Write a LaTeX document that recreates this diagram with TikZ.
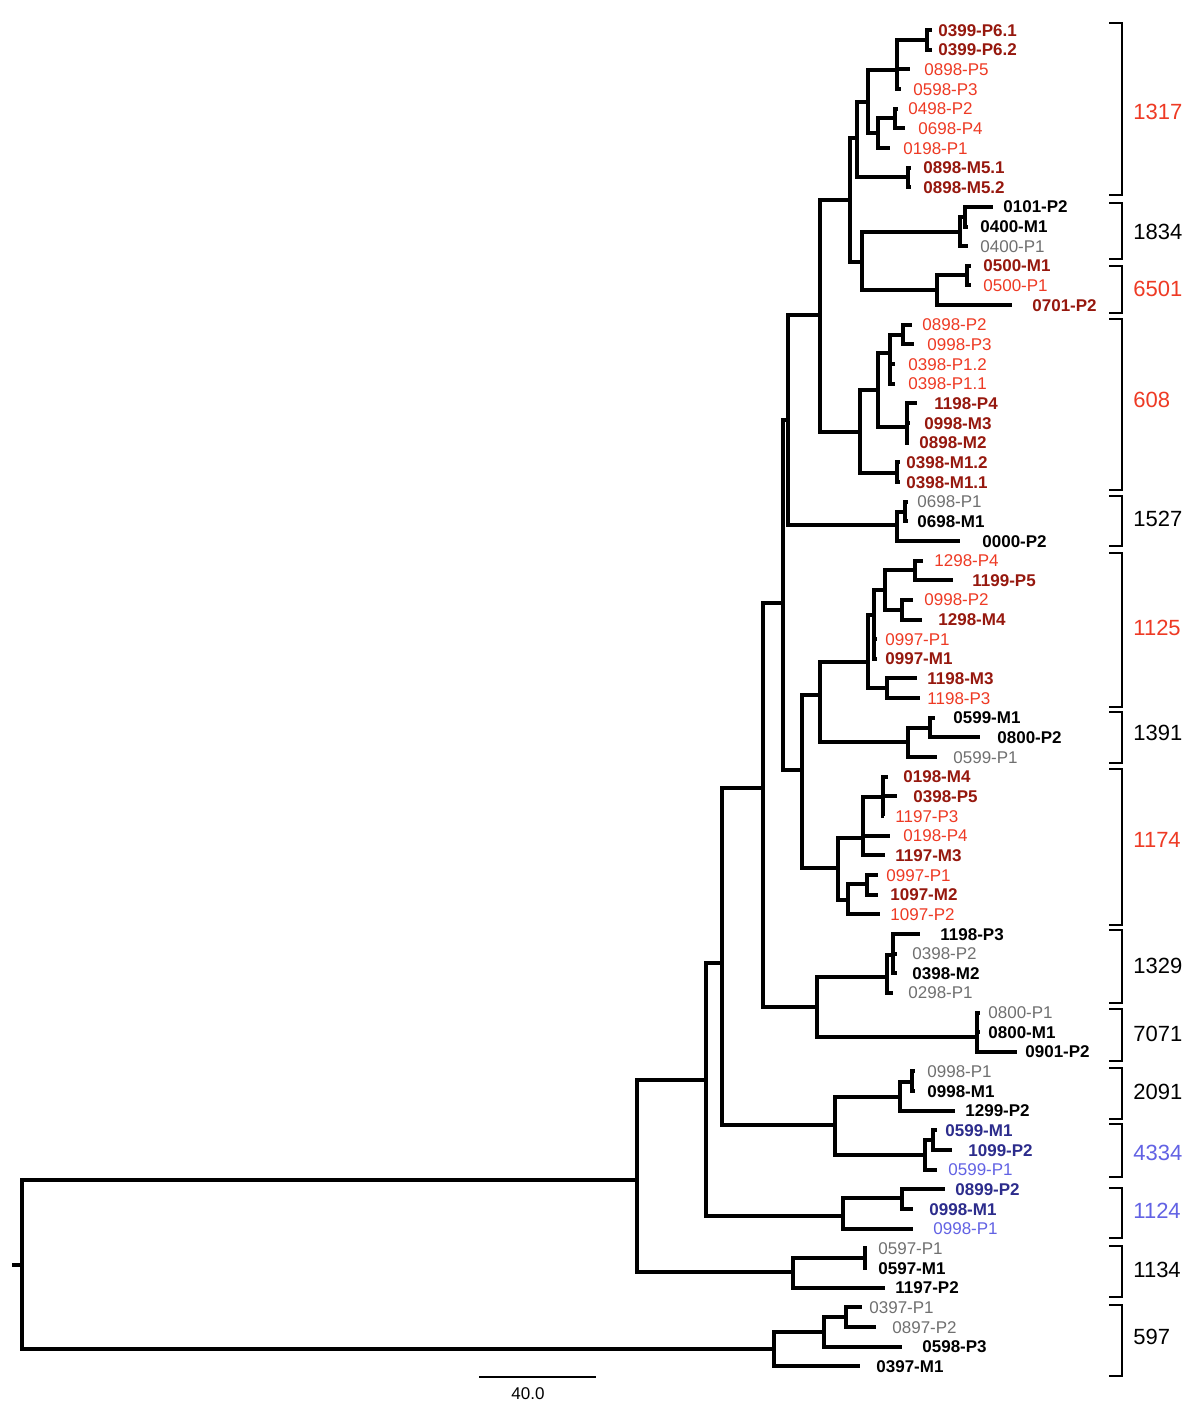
\documentclass[tikz,border=0pt]{standalone}
\usepackage{fontspec}
\setmainfont{Liberation Sans}
\definecolor{dkred}{RGB}{150,24,14}
\definecolor{ltred}{RGB}{238,58,36}
\definecolor{midgray}{RGB}{112,112,112}
\definecolor{navy}{RGB}{44,44,140}
\definecolor{ltblue}{RGB}{98,98,228}
\begin{document}
\begin{tikzpicture}[
  x=0.5pt, y=-0.5pt,
  branch/.style={line width=2pt, line cap=butt, line join=miter},
  bracket/.style={line width=1pt, line join=miter},
  leaf/.style={anchor=west, inner sep=0pt, text height=6.1pt, text depth=0pt, font=\fontsize{8.5}{10}\selectfont},
  darkleaf/.style={leaf, text=dkred, font=\fontsize{8.5}{10}\selectfont\bfseries},
  redleaf/.style={leaf, text=ltred},
  blackleaf/.style={leaf, text=black, font=\fontsize{8.5}{10}\selectfont\bfseries},
  grayleaf/.style={leaf, text=midgray},
  navyleaf/.style={leaf, text=navy, font=\fontsize{8.5}{10}\selectfont\bfseries},
  blueleaf/.style={leaf, text=ltblue},
  cladelabel/.style={anchor=west, inner sep=0pt, text height=7.9pt, text depth=0pt, font=\fontsize{11}{13}\selectfont}
]
  \fill[white] (0,0) rectangle (1200,1408);
  \useasboundingbox (0,0) rectangle (1200,1408);

  \foreach \i/\tx/\lx/\sty/\lab in {
    1/932/938/darkleaf/0399-P6.1, 2/932/938/darkleaf/0399-P6.2, 3/910/924/redleaf/0898-P5,
    4/901/913/redleaf/0598-P3, 5/898/908/redleaf/0498-P2, 6/905/918/redleaf/0698-P4,
    7/890/903/redleaf/0198-P1, 8/911/923/darkleaf/0898-M5.1, 9/911/923/darkleaf/0898-M5.2,
    10/993/1003/blackleaf/0101-P2, 11/968/980/blackleaf/0400-M1, 12/968/980/grayleaf/0400-P1,
    13/971/983/darkleaf/0500-M1, 14/971/983/redleaf/0500-P1, 15/1012/1032/darkleaf/0701-P2,
    16/912/922/redleaf/0898-P2, 17/914/927/redleaf/0998-P3, 18/895/908/redleaf/0398-P1.2,
    19/895/908/redleaf/0398-P1.1, 20/917/934/darkleaf/1198-P4, 21/910/924/darkleaf/0998-M3,
    22/909/919/darkleaf/0898-M2, 23/900/906/darkleaf/0398-M1.2, 24/900/906/darkleaf/0398-M1.1,
    25/908/917/grayleaf/0698-P1, 26/908/917/blackleaf/0698-M1, 27/960/982/blackleaf/0000-P2,
    28/923/934/redleaf/1298-P4, 29/953/972/darkleaf/1199-P5, 30/913/924/redleaf/0998-P2,
    31/922/938/darkleaf/1298-M4, 32/877/885/redleaf/0997-P1, 33/877/885/darkleaf/0997-M1,
    34/917/927/darkleaf/1198-M3, 35/920/927/redleaf/1198-P3, 36/935/953/blackleaf/0599-M1,
    37/980/997/blackleaf/0800-P2, 38/937/953/grayleaf/0599-P1, 39/888/903/darkleaf/0198-M4,
    40/897/913/darkleaf/0398-P5, 41/884/895/redleaf/1197-P3, 42/890/903/redleaf/0198-P4,
    43/885/895/darkleaf/1197-M3, 44/878/886/redleaf/0997-P1, 45/878/890/darkleaf/1097-M2,
    46/880/890/redleaf/1097-P2, 47/920/940/blackleaf/1198-P3, 48/897/912/grayleaf/0398-P2,
    49/897/912/blackleaf/0398-M2, 50/893/908/grayleaf/0298-P1, 51/980/988/grayleaf/0800-P1,
    52/980/988/blackleaf/0800-M1, 53/1017/1025/blackleaf/0901-P2, 54/915/927/grayleaf/0998-P1,
    55/915/927/blackleaf/0998-M1, 56/955/965/blackleaf/1299-P2, 57/937/945/navyleaf/0599-M1,
    58/952/968/navyleaf/1099-P2, 59/937/948/blueleaf/0599-P1, 60/945/955/navyleaf/0899-P2,
    61/913/929/navyleaf/0998-M1, 62/913/933/blueleaf/0998-P1, 63/867/878/grayleaf/0597-P1,
    64/867/878/blackleaf/0597-M1, 65/885/895/blackleaf/1197-P2, 66/862/869/grayleaf/0397-P1,
    67/876/892/grayleaf/0897-P2, 68/902/922/blackleaf/0598-P3, 69/860/876/blackleaf/0397-M1}{
    \coordinate (t\i) at (\tx, {30+19.65*(\i-1)});
    \node[\sty] (s\i) at (\lx, {30+19.65*(\i-1)}) {\lab};
  }

  \coordinate (nP6) at (927,40);   \coordinate (nA) at (897,70);    \coordinate (nB) at (895,118);
  \coordinate (nC) at (878,133);   \coordinate (nD) at (868,102);   \coordinate (nM5) at (908,177);
  \coordinate (nE) at (857,138);   \coordinate (nF) at (965,217);   \coordinate (nG) at (960,232);
  \coordinate (nH) at (967,275);   \coordinate (nI) at (937,290);   \coordinate (nJ) at (862,262);
  \coordinate (nK) at (850,200);   \coordinate (nL) at (903,335);   \coordinate (nM) at (890,353);
  \coordinate (nN) at (907,427);   \coordinate (nO) at (878,390);   \coordinate (nP) at (897,473);
  \coordinate (nQ) at (860,432);   \coordinate (nR) at (820,315);   \coordinate (nS) at (905,512);
  \coordinate (nT) at (897,525);   \coordinate (nU) at (788,420);   \coordinate (nV) at (783,603);
  \coordinate (n1) at (915,570);   \coordinate (n2) at (902,610);   \coordinate (n3) at (885,590);
  \coordinate (n4) at (874,615);   \coordinate (n5) at (887,688);   \coordinate (n6) at (868,662);
  \coordinate (n7) at (930,728);   \coordinate (n8) at (908,742);   \coordinate (n9) at (820,695);
  \coordinate (n10) at (883,797);  \coordinate (n11) at (863,838);  \coordinate (n12) at (867,884);
  \coordinate (n13) at (848,900);  \coordinate (n14) at (838,868);  \coordinate (nW) at (802,770);
  \coordinate (nX) at (763,788);   \coordinate (n15) at (893,955);  \coordinate (n16) at (887,977);
  \coordinate (n17) at (977,1037); \coordinate (nY) at (817,1007);  \coordinate (n18) at (912,1082);
  \coordinate (n19) at (900,1097); \coordinate (n20) at (933,1140); \coordinate (n21) at (925,1155);
  \coordinate (n22) at (835,1125); \coordinate (nZ) at (722,963);   \coordinate (n23) at (902,1198);
  \coordinate (n24) at (843,1216); \coordinate (n25) at (706,1080); \coordinate (n26) at (865,1258);
  \coordinate (n27) at (793,1272); \coordinate (n28) at (637,1180); \coordinate (n29) at (846,1317);
  \coordinate (n30) at (824,1332); \coordinate (n31) at (774,1349); \coordinate (root) at (22,1265);
  \coordinate (stub) at (12,1265);

  \foreach \p/\c in {nP6/t1, nP6/t2, nA/nP6, nA/t3, nA/t4, nB/t5, nB/t6, nC/nB, nC/t7, nD/nA, nD/nC,
    nM5/t8, nM5/t9, nE/nD, nE/nM5, nF/t10, nF/t11, nG/nF, nG/t12, nH/t13, nH/t14, nI/nH, nI/t15,
    nJ/nG, nJ/nI, nK/nE, nK/nJ, nL/t16, nL/t17, nM/nL, nM/t18, nM/t19, nN/t20, nN/t21, nN/t22,
    nO/nM, nO/nN, nP/t23, nP/t24, nQ/nO, nQ/nP, nR/nK, nR/nQ, nS/t25, nS/t26, nT/nS, nT/t27,
    nU/nR, nU/nT, nV/nU, nV/nW, n1/t28, n1/t29, n2/t30, n2/t31, n3/n1, n3/n2, n4/n3, n4/t32, n4/t33,
    n5/t34, n5/t35, n6/n4, n6/n5, n7/t36, n7/t37, n8/n7, n8/t38, n9/n6, n9/n8,
    n10/t39, n10/t40, n10/t41, n11/n10, n11/t42, n11/t43, n12/t44, n12/t45, n13/n12, n13/t46,
    n14/n11, n14/n13, nW/n9, nW/n14, nX/nV, nX/nY, n15/t47, n15/t48, n15/t49, n16/n15, n16/t50,
    n17/t51, n17/t52, n17/t53, nY/n16, nY/n17, n18/t54, n18/t55, n19/n18, n19/t56,
    n20/t57, n20/t58, n21/n20, n21/t59, n22/n19, n22/n21, nZ/nX, nZ/n22,
    n23/t60, n23/t61, n24/n23, n24/t62, n25/nZ, n25/n24, n26/t63, n26/t64, n27/n26, n27/t65,
    n28/n25, n28/n27, n29/t66, n29/t67, n30/n29, n30/t68, n31/n30, n31/t69, root/n28, root/n31}
    \draw[branch] (\p) |- (\c);
  \draw[branch] (stub) -- (root);

  \foreach \lab/\top/\bot/\ly/\col in {1317/23/195/112/ltred, 1834/203/259/232/black,
    6501/266/313/289/ltred, 608/319/490/400/ltred, 1527/496/546/519/black,
    1125/553/707/628/ltred, 1391/712/763/733/black, 1174/769/925/840/ltred,
    1329/930/1003/966/black, 7071/1009/1061/1034/black, 2091/1068/1119/1092/black,
    4334/1124/1177/1153/ltblue, 1124/1188/1238/1211/ltblue, 1134/1246/1297/1270/black,
    597/1305/1376/1337/black}{
    \coordinate (bt\lab) at (1122,\top);
    \coordinate (bb\lab) at (1122,\bot);
    \draw[bracket] ([xshift=-6.5pt]bt\lab) -- (bt\lab) -- (bb\lab) -- ([xshift=-6.5pt]bb\lab);
    \node[cladelabel, text=\col] (cl\lab) at (1133,\ly) {\lab};
  }

  \coordinate (sbl) at (479,1377);
  \coordinate (sbr) at (596,1377);
  \draw[line width=1.2pt] (sbl) -- (sbr);
  \node[font=\fontsize{8.5}{10}\selectfont, inner sep=0pt] (sbtext) at (528,1394) {40.0};
\end{tikzpicture}
\end{document}
